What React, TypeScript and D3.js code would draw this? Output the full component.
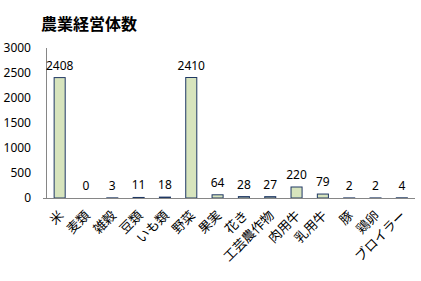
import React from "react";
import * as d3 from "d3";

const title = "農業経営体数";
const categories = ["米", "麦類", "雑穀", "豆類", "いも類", "野菜", "果実", "花き", "工芸農作物", "肉用牛", "乳用牛", "豚", "鶏卵", "ブロイラー"];
const values = [2408, 0, 3, 11, 18, 2410, 64, 28, 27, 220, 79, 2, 2, 4];
const yTicks = [0, 500, 1000, 1500, 2000, 2500, 3000];

const W = 421;
const H = 281;
const left = 46.5;
const right = 415;
const top = 48;
const bottom = 198;

export default function App() {
  const x = d3.scaleBand<string>().domain(categories).range([left, right]).paddingInner(0.58).paddingOuter(0.29);
  const y = d3.scaleLinear().domain([0, 3000]).range([bottom, top]);
  const numFont = "'Noto Sans', 'DejaVu Sans', sans-serif";
  const jpFont = "'Noto Sans CJK JP', sans-serif";

  return (
    <svg width={W} height={H} style={{ position: "absolute", left: 0, top: 0, background: "#fff" }}>
      <text x={41} y={30} fontFamily={jpFont} fontWeight="bold" fontSize={16} fill="#000">
        {title}
      </text>
      {yTicks.map((t) => (
        <text key={t} x={31} y={y(t)} dy="0.35em" textAnchor="end" fontFamily={numFont} fontSize={12} fill="#000">
          {t}
        </text>
      ))}
      <line x1={left} x2={left} y1={top} y2={bottom} stroke="#868686" strokeWidth={1} />
      {categories.map((c, i) => {
        const v = values[i];
        const bx = x(c)!;
        const bw = x.bandwidth();
        const by = y(v);
        return (
          <g key={c}>
            <rect x={bx} y={by} width={bw} height={Math.max(0, bottom - by)} fill="#d7e4bd" stroke="#1f3864" strokeWidth={1} />
            <text x={bx + bw / 2} y={by - 8} textAnchor="middle" fontFamily={numFont} fontSize={12} fill="#000">
              {v}
            </text>
            <text
              transform={`translate(${bx + bw / 2 + 1.5},${bottom + 15}) rotate(-45)`}
              textAnchor="end"
              dy="0.35em"
              fontFamily={jpFont}
              fontSize={13}
              fill="#000"
            >
              {c}
            </text>
          </g>
        );
      })}
      <line x1={43} x2={right} y1={bottom + 0.5} y2={bottom + 0.5} stroke="#868686" strokeWidth={1} />
    </svg>
  );
}
